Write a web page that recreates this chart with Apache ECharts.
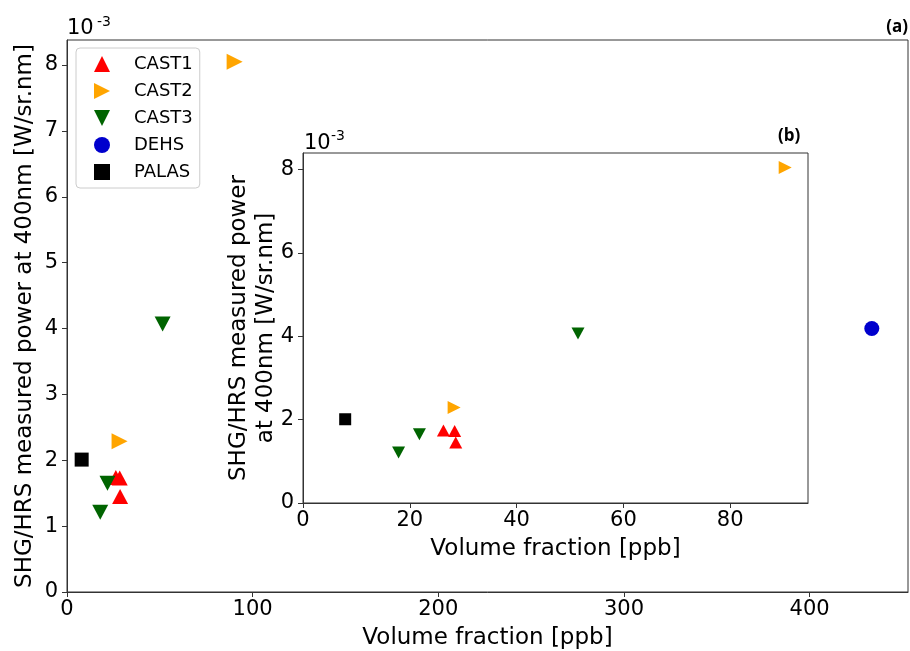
<!DOCTYPE html>
<html>
<head>
<meta charset="utf-8">
<script src="https://cdn.jsdelivr.net/npm/echarts@6/dist/echarts.min.js"></script>
<style>
html,body{margin:0;padding:0;background:#fff;}
#chart{width:910px;height:651px;}
</style>
</head>
<body>
<div id="chart"></div>
<script>
// Values in units of 10^-3 W/sr.nm
const cast1 = [[26.3, 1.74], [28.4, 1.73], [28.6, 1.45]];
const cast2 = [[28.3, 2.29], [90.3, 8.05]];
const cast3 = [[17.9, 1.21], [21.8, 1.65], [51.5, 4.07]];
const dehs = [[433.5, 4.00]];
const palas = [[7.9, 2.01]];

const seriesNames = ['CAST1', 'CAST2', 'CAST3', 'DEHS', 'PALAS'];
const seriesData = [cast1, cast2, cast3, dehs, palas];
const mainXTicks = [0, 100, 200, 300, 400];
const mainYTicks = [0, 1, 2, 3, 4, 5, 6, 7, 8];
const insetXTicks = [0, 20, 40, 60, 80];
const insetYTicks = [0, 2, 4, 6, 8];

const colors = ['#ff0000', '#ffa500', '#006400', '#0000cd', '#000000'];
const symbols = ['triangle', 'path://M0,0L10,5L0,10Z', 'path://M0,0L10,0L5,10Z', 'circle', 'rect'];
const mainSizes = [[16, 15], [16, 16], [16, 15], 15, 14];
const insetSizes = [[13, 12], [13, 13], [13, 12], 12, 12];

const FONT = 'DejaVu Sans';
const AX = '#333';

function makeAxis(gridIndex, min, max, ticks, isX, name, nameGap) {
  return {
    type: 'value', gridIndex: gridIndex, min: min, max: max,
    name: name, nameLocation: 'middle', nameGap: nameGap, nameMoveOverlap: false,
    nameTextStyle: { fontFamily: FONT, fontSize: 23, color: '#000', lineHeight: 27 },
    axisLine: { show: true, lineStyle: { color: AX, width: 1 } },
    axisTick: { show: true, inside: false, length: 5, customValues: ticks, lineStyle: { color: AX } },
    axisLabel: { show: true, customValues: ticks, margin: isX ? 7 : 9, fontFamily: FONT, fontSize: 21, color: '#000' },
    splitLine: { show: false }
  };
}

const series = [];
seriesNames.forEach((n, i) => {
  series.push({
    name: n, type: 'scatter', xAxisIndex: 0, yAxisIndex: 0,
    data: seriesData[i], symbol: symbols[i], symbolSize: mainSizes[i],
    itemStyle: { color: colors[i], opacity: 1 }, z: 3
  });
});
seriesNames.forEach((n, i) => {
  series.push({
    name: n, type: 'scatter', xAxisIndex: 1, yAxisIndex: 1,
    data: seriesData[i].filter(d => d[0] <= 94.5), symbol: symbols[i], symbolSize: insetSizes[i],
    itemStyle: { color: colors[i], opacity: 1 }, z: 5
  });
});

const option = {
  animation: false,
  backgroundColor: '#fff',
  grid: [
    { left: 67, top: 40, width: 841, height: 552, show: true, borderColor: AX, borderWidth: 1, backgroundColor: 'transparent', containLabel: false, outerBoundsMode: 'none' },
    { left: 303, top: 153, width: 505, height: 350, show: true, borderColor: AX, borderWidth: 1, backgroundColor: '#fff', containLabel: false, outerBoundsMode: 'none', z: 4 }
  ],
  xAxis: [
    makeAxis(0, 0, 453, mainXTicks, true, 'Volume fraction [ppb]', 33),
    Object.assign(makeAxis(1, 0, 94.57, insetXTicks, true, 'Volume fraction [ppb]', 33), { z: 5 })
  ],
  yAxis: [
    makeAxis(0, 0, 8.38, mainYTicks, false, 'SHG/HRS measured power at 400nm [W/sr.nm]', 28),
    Object.assign(makeAxis(1, 0, 8.4, insetYTicks, false, 'SHG/HRS measured power\nat 400nm [W/sr.nm]', 23), { z: 5 })
  ],
  legend: {
    data: seriesNames,
    orient: 'vertical', left: 76, top: 48,
    padding: [7, 7, 7, 18],
    itemWidth: 16, itemHeight: 16, itemGap: 9,
    textStyle: { fontFamily: FONT, fontSize: 18, lineHeight: 18, color: '#000', padding: [0, 0, 0, 19] },
    borderColor: '#cccccc', borderWidth: 1, borderRadius: 4,
    backgroundColor: 'rgba(255,255,255,0.8)',
    selectedMode: false, z: 10
  },
  graphic: [
    { type: 'text', left: 67, top: 18, style: { text: '10', fontFamily: FONT, fontSize: 21, fill: '#000' } },
    { type: 'text', left: 97, top: 15, style: { text: '-3', fontFamily: FONT, fontSize: 14, fill: '#000' } },
    { type: 'text', left: 304, top: 133, z: 10, style: { text: '10', fontFamily: FONT, fontSize: 21, fill: '#000' } },
    { type: 'text', left: 331, top: 129, z: 10, style: { text: '-3', fontFamily: FONT, fontSize: 14, fill: '#000' } },
    { type: 'text', right: 2, top: 19, style: { text: '(a)', fontFamily: 'Open Sans', fontWeight: 'bold', fontSize: 17, fill: '#000' } },
    { type: 'text', left: 778, top: 128, z: 10, style: { text: '(b)', fontFamily: 'Open Sans', fontWeight: 'bold', fontSize: 17, fill: '#000' } }
  ],
  series: series
};

const chart = echarts.init(document.getElementById('chart'), null, { renderer: 'canvas' });
chart.setOption(option);
</script>
</body>
</html>
